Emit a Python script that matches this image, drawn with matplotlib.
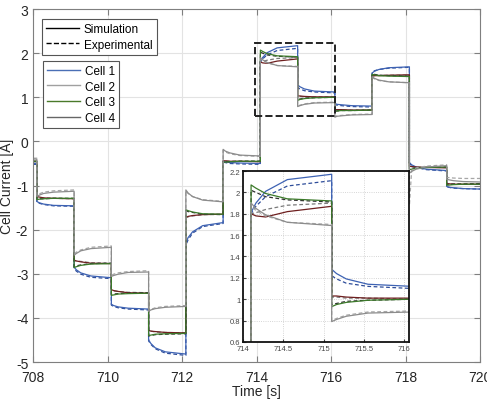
import numpy as np
import matplotlib
matplotlib.use("Agg")
import matplotlib.pyplot as plt
from matplotlib.lines import Line2D
from matplotlib.patches import Rectangle

plt.rcParams['font.family'] = ['Liberation Sans', 'DejaVu Sans']
plt.rcParams['axes.unicode_minus'] = False

# ===== DATA =====
# step boundaries [s]
step_times = [708.0, 708.1, 709.1, 710.1, 711.1, 712.1, 713.1, 714.1,
              715.1, 716.1, 717.1, 718.1, 719.1, 720.0]
# sample offsets inside each step [s] (last sample = end of step)
sample_offsets = [0.0, 0.06, 0.18, 0.45]

# current per step [A]: start, +0.06 s, +0.18 s, +0.45 s, end
cell1_sim = [[-0.50, -0.50, -0.50, -0.50, -0.50],
             [-1.36, -1.39, -1.42, -1.45, -1.46],
             [-2.85, -2.91, -2.98, -3.05, -3.09],
             [-3.69, -3.72, -3.75, -3.78, -3.80],
             [-4.50, -4.58, -4.68, -4.77, -4.82],
             [-2.30, -2.18, -2.05, -1.91, -1.84],
             [-0.45, -0.46, -0.48, -0.49, -0.50],
             [1.81, 1.90, 2.01, 2.12, 2.17],
             [1.28, 1.24, 1.19, 1.14, 1.12],
             [0.86, 0.84, 0.83, 0.81, 0.80],
             [1.55, 1.59, 1.63, 1.67, 1.69],
             [-0.48, -0.53, -0.58, -0.63, -0.66],
             [-1.02, -1.04, -1.05, -1.07, -1.08]]
cell1_exp = [[-0.52, -0.52, -0.52, -0.52, -0.52],
             [-1.38, -1.40, -1.43, -1.46, -1.47],
             [-2.88, -2.94, -3.01, -3.08, -3.11],
             [-3.71, -3.74, -3.77, -3.80, -3.82],
             [-4.52, -4.60, -4.70, -4.80, -4.85],
             [-2.35, -2.23, -2.08, -1.93, -1.86],
             [-0.47, -0.48, -0.50, -0.51, -0.52],
             [1.80, 1.87, 1.96, 2.06, 2.11],
             [1.22, 1.19, 1.15, 1.12, 1.10],
             [0.84, 0.82, 0.81, 0.79, 0.78],
             [1.57, 1.60, 1.63, 1.66, 1.68],
             [-0.50, -0.54, -0.59, -0.64, -0.67],
             [-1.03, -1.04, -1.06, -1.07, -1.08]]
cell2_sim = [[-0.45, -0.45, -0.45, -0.45, -0.45],
             [-1.25, -1.26, -1.28, -1.29, -1.30],
             [-2.69, -2.71, -2.73, -2.76, -2.77],
             [-3.36, -3.38, -3.40, -3.43, -3.44],
             [-4.28, -4.30, -4.31, -4.33, -4.34],
             [-1.72, -1.70, -1.68, -1.66, -1.65],
             [-0.44, -0.44, -0.45, -0.45, -0.46],
             [1.80, 1.78, 1.77, 1.82, 1.87],
             [1.03, 1.03, 1.02, 1.01, 1.01],
             [0.72, 0.72, 0.72, 0.71, 0.71],
             [1.48, 1.49, 1.49, 1.50, 1.51],
             [-0.56, -0.57, -0.58, -0.59, -0.60],
             [-0.96, -0.96, -0.97, -0.97, -0.97]]
cell2_exp = [[-0.45, -0.45, -0.45, -0.45, -0.45],
             [-1.27, -1.27, -1.28, -1.29, -1.30],
             [-2.70, -2.71, -2.72, -2.75, -2.76],
             [-3.38, -3.39, -3.40, -3.42, -3.43],
             [-4.29, -4.30, -4.32, -4.33, -4.34],
             [-1.73, -1.71, -1.69, -1.66, -1.65],
             [-0.45, -0.45, -0.45, -0.45, -0.45],
             [1.80, 1.81, 1.84, 1.88, 1.90],
             [1.02, 1.02, 1.01, 1.01, 1.00],
             [0.71, 0.71, 0.71, 0.71, 0.71],
             [1.49, 1.49, 1.50, 1.50, 1.50],
             [-0.57, -0.57, -0.58, -0.59, -0.59],
             [-0.96, -0.96, -0.96, -0.96, -0.96]]
cell3_sim = [[-0.45, -0.45, -0.45, -0.45, -0.45],
             [-1.32, -1.31, -1.30, -1.29, -1.29],
             [-2.86, -2.84, -2.81, -2.78, -2.77],
             [-3.49, -3.48, -3.46, -3.45, -3.44],
             [-4.40, -4.39, -4.37, -4.36, -4.35],
             [-1.55, -1.57, -1.60, -1.64, -1.65],
             [-0.47, -0.47, -0.46, -0.45, -0.45],
             [2.07, 2.04, 1.99, 1.94, 1.92],
             [0.93, 0.95, 0.97, 0.99, 1.00],
             [0.68, 0.69, 0.70, 0.70, 0.71],
             [1.52, 1.51, 1.49, 1.48, 1.47],
             [-0.64, -0.63, -0.61, -0.59, -0.58],
             [-0.99, -0.99, -0.98, -0.97, -0.97]]
cell3_exp = [[-0.46, -0.46, -0.46, -0.46, -0.46],
             [-1.30, -1.30, -1.30, -1.29, -1.29],
             [-2.84, -2.82, -2.80, -2.77, -2.76],
             [-3.47, -3.46, -3.45, -3.44, -3.43],
             [-4.41, -4.40, -4.38, -4.37, -4.36],
             [-1.57, -1.59, -1.61, -1.65, -1.66],
             [-0.46, -0.46, -0.46, -0.45, -0.45],
             [2.02, 2.00, 1.96, 1.93, 1.91],
             [0.95, 0.96, 0.98, 0.99, 1.00],
             [0.69, 0.69, 0.70, 0.70, 0.71],
             [1.53, 1.52, 1.50, 1.49, 1.48],
             [-0.62, -0.61, -0.60, -0.59, -0.58],
             [-0.98, -0.98, -0.97, -0.97, -0.96]]
cell4_sim = [[-0.40, -0.40, -0.40, -0.40, -0.40],
             [-1.25, -1.22, -1.18, -1.15, -1.13],
             [-2.58, -2.54, -2.48, -2.43, -2.40],
             [-3.06, -3.04, -3.01, -2.97, -2.96],
             [-3.85, -3.82, -3.79, -3.76, -3.74],
             [-1.10, -1.17, -1.25, -1.33, -1.37],
             [-0.18, -0.22, -0.26, -0.31, -0.33],
             [1.90, 1.85, 1.79, 1.72, 1.69],
             [0.79, 0.81, 0.84, 0.87, 0.88],
             [0.55, 0.57, 0.58, 0.60, 0.61],
             [1.47, 1.43, 1.39, 1.35, 1.33],
             [-0.72, -0.68, -0.63, -0.58, -0.55],
             [-0.86, -0.87, -0.89, -0.91, -0.92]]
cell4_exp = [[-0.38, -0.38, -0.38, -0.38, -0.38],
             [-1.22, -1.19, -1.15, -1.12, -1.10],
             [-2.56, -2.51, -2.46, -2.40, -2.37],
             [-3.04, -3.01, -2.98, -2.95, -2.93],
             [-3.84, -3.81, -3.77, -3.74, -3.72],
             [-1.12, -1.18, -1.25, -1.32, -1.36],
             [-0.20, -0.24, -0.28, -0.32, -0.34],
             [1.88, 1.83, 1.78, 1.72, 1.70],
             [0.80, 0.82, 0.85, 0.88, 0.89],
             [0.56, 0.58, 0.59, 0.61, 0.62],
             [1.45, 1.42, 1.38, 1.35, 1.33],
             [-1.45, -0.66, -0.60, -0.56, -0.53],
             [-0.82, -0.82, -0.83, -0.84, -0.84]]

cell_names = ['Cell 1', 'Cell 2', 'Cell 3', 'Cell 4']
sim_data = [cell1_sim, cell2_sim, cell3_sim, cell4_sim]
exp_data = [cell1_exp, cell2_exp, cell3_exp, cell4_exp]
sim_colors = ['#3d62b3', '#6e1f1f', '#3c7a2a', '#8c8c8c']
exp_colors = ['#2e4d9a', '#7a7a7a', '#303030', '#a6a6a6']
legend_colors = ['#4a6fb5', '#a0a0a0', '#4a7a2a', '#666666']


def build_series(values):
    ts, ys = [], []
    for k, seg in enumerate(values):
        t0, t1 = step_times[k], step_times[k + 1]
        for off, v in zip(sample_offsets + [t1 - t0], seg):
            ts.append(min(t0 + off, t1))
            ys.append(v)
    return np.array(ts), np.array(ys)


def draw_cells(ax, lw):
    for i in range(4):
        t, y = build_series(exp_data[i])
        ax.plot(t, y, '--', color=exp_colors[i], lw=lw, dashes=(3, 2))
        t, y = build_series(sim_data[i])
        ax.plot(t, y, '-', color=sim_colors[i], lw=lw)


# ===== FIGURE =====
fig = plt.figure(figsize=(4.87, 4.02), dpi=100)
ax = fig.add_axes([0.068, 0.097, 0.918, 0.878])
draw_cells(ax, 0.9)

ax.set_xlim(708, 720)
ax.set_ylim(-5, 3)
ax.set_xticks(np.arange(708, 721, 2))
ax.set_yticks(np.arange(-5, 4, 1))
ax.grid(True, color='#e3e3e3', lw=0.8)
ax.set_axisbelow(True)
ax.tick_params(direction='in', top=True, right=True, length=4,
               color='#7f7f7f', labelsize=10, labelcolor='#262626')
ax.tick_params(axis='x', pad=6)
for s in ax.spines.values():
    s.set_color('#7f7f7f')
ax.set_xlabel('Time [s]', fontsize=10, color='#262626', labelpad=0)
ax.set_ylabel('Cell Current [A]', fontsize=10, color='#262626')
ax.yaxis.set_label_coords(-0.043, 0.5)

# zoom box
ax.add_patch(Rectangle((713.95, 0.57), 2.15, 1.66, fill=False,
                       ls='--', lw=1.4, ec='#222222', zorder=5))

# legends
h1 = [Line2D([], [], color='k', lw=1.0, ls='-'),
      Line2D([], [], color='k', lw=1.0, ls='--')]
leg1 = ax.legend(h1, ['Simulation', 'Experimental'], loc='upper left',
                 bbox_to_anchor=(0.02, 0.972), borderaxespad=0,
                 fontsize=8.5, fancybox=False, framealpha=1,
                 edgecolor='#555555', handlelength=2.8, borderpad=0.35,
                 labelspacing=0.3, handletextpad=0.4)
leg1.get_frame().set_linewidth(0.8)
ax.add_artist(leg1)
h2 = [Line2D([], [], color=c, lw=1.0) for c in legend_colors]
leg2 = ax.legend(h2, cell_names, loc='upper left',
                 bbox_to_anchor=(0.022, 0.853), borderaxespad=0,
                 fontsize=8.5, fancybox=False, framealpha=1,
                 edgecolor='#555555', handlelength=2.8, borderpad=0.35,
                 labelspacing=0.3, handletextpad=0.4)
leg2.get_frame().set_linewidth(0.8)

# ===== INSET =====
ins = fig.add_axes([0.499, 0.147, 0.341, 0.425])
draw_cells(ins, 0.9)
ins.set_xlim(714, 716.06)
ins.set_ylim(0.6, 2.2)
ins.set_xticks([714, 714.5, 715, 715.5, 716])
ins.set_yticks(np.arange(0.6, 2.21, 0.2))
ins.set_xticklabels(['714', '714.5', '715', '715.5', '716'])
ins.set_yticklabels(['%g' % round(v, 1) for v in np.arange(0.6, 2.21, 0.2)])
ins.grid(True, color='#c8c8c8', lw=0.6, ls=':')
ins.tick_params(direction='in', length=2.5, labelsize=5.5,
                labelcolor='#444444', color='#444444', pad=2)
for s in ins.spines.values():
    s.set_color('#111111')
    s.set_linewidth(1.3)

fig.savefig('out.png', dpi=100)
